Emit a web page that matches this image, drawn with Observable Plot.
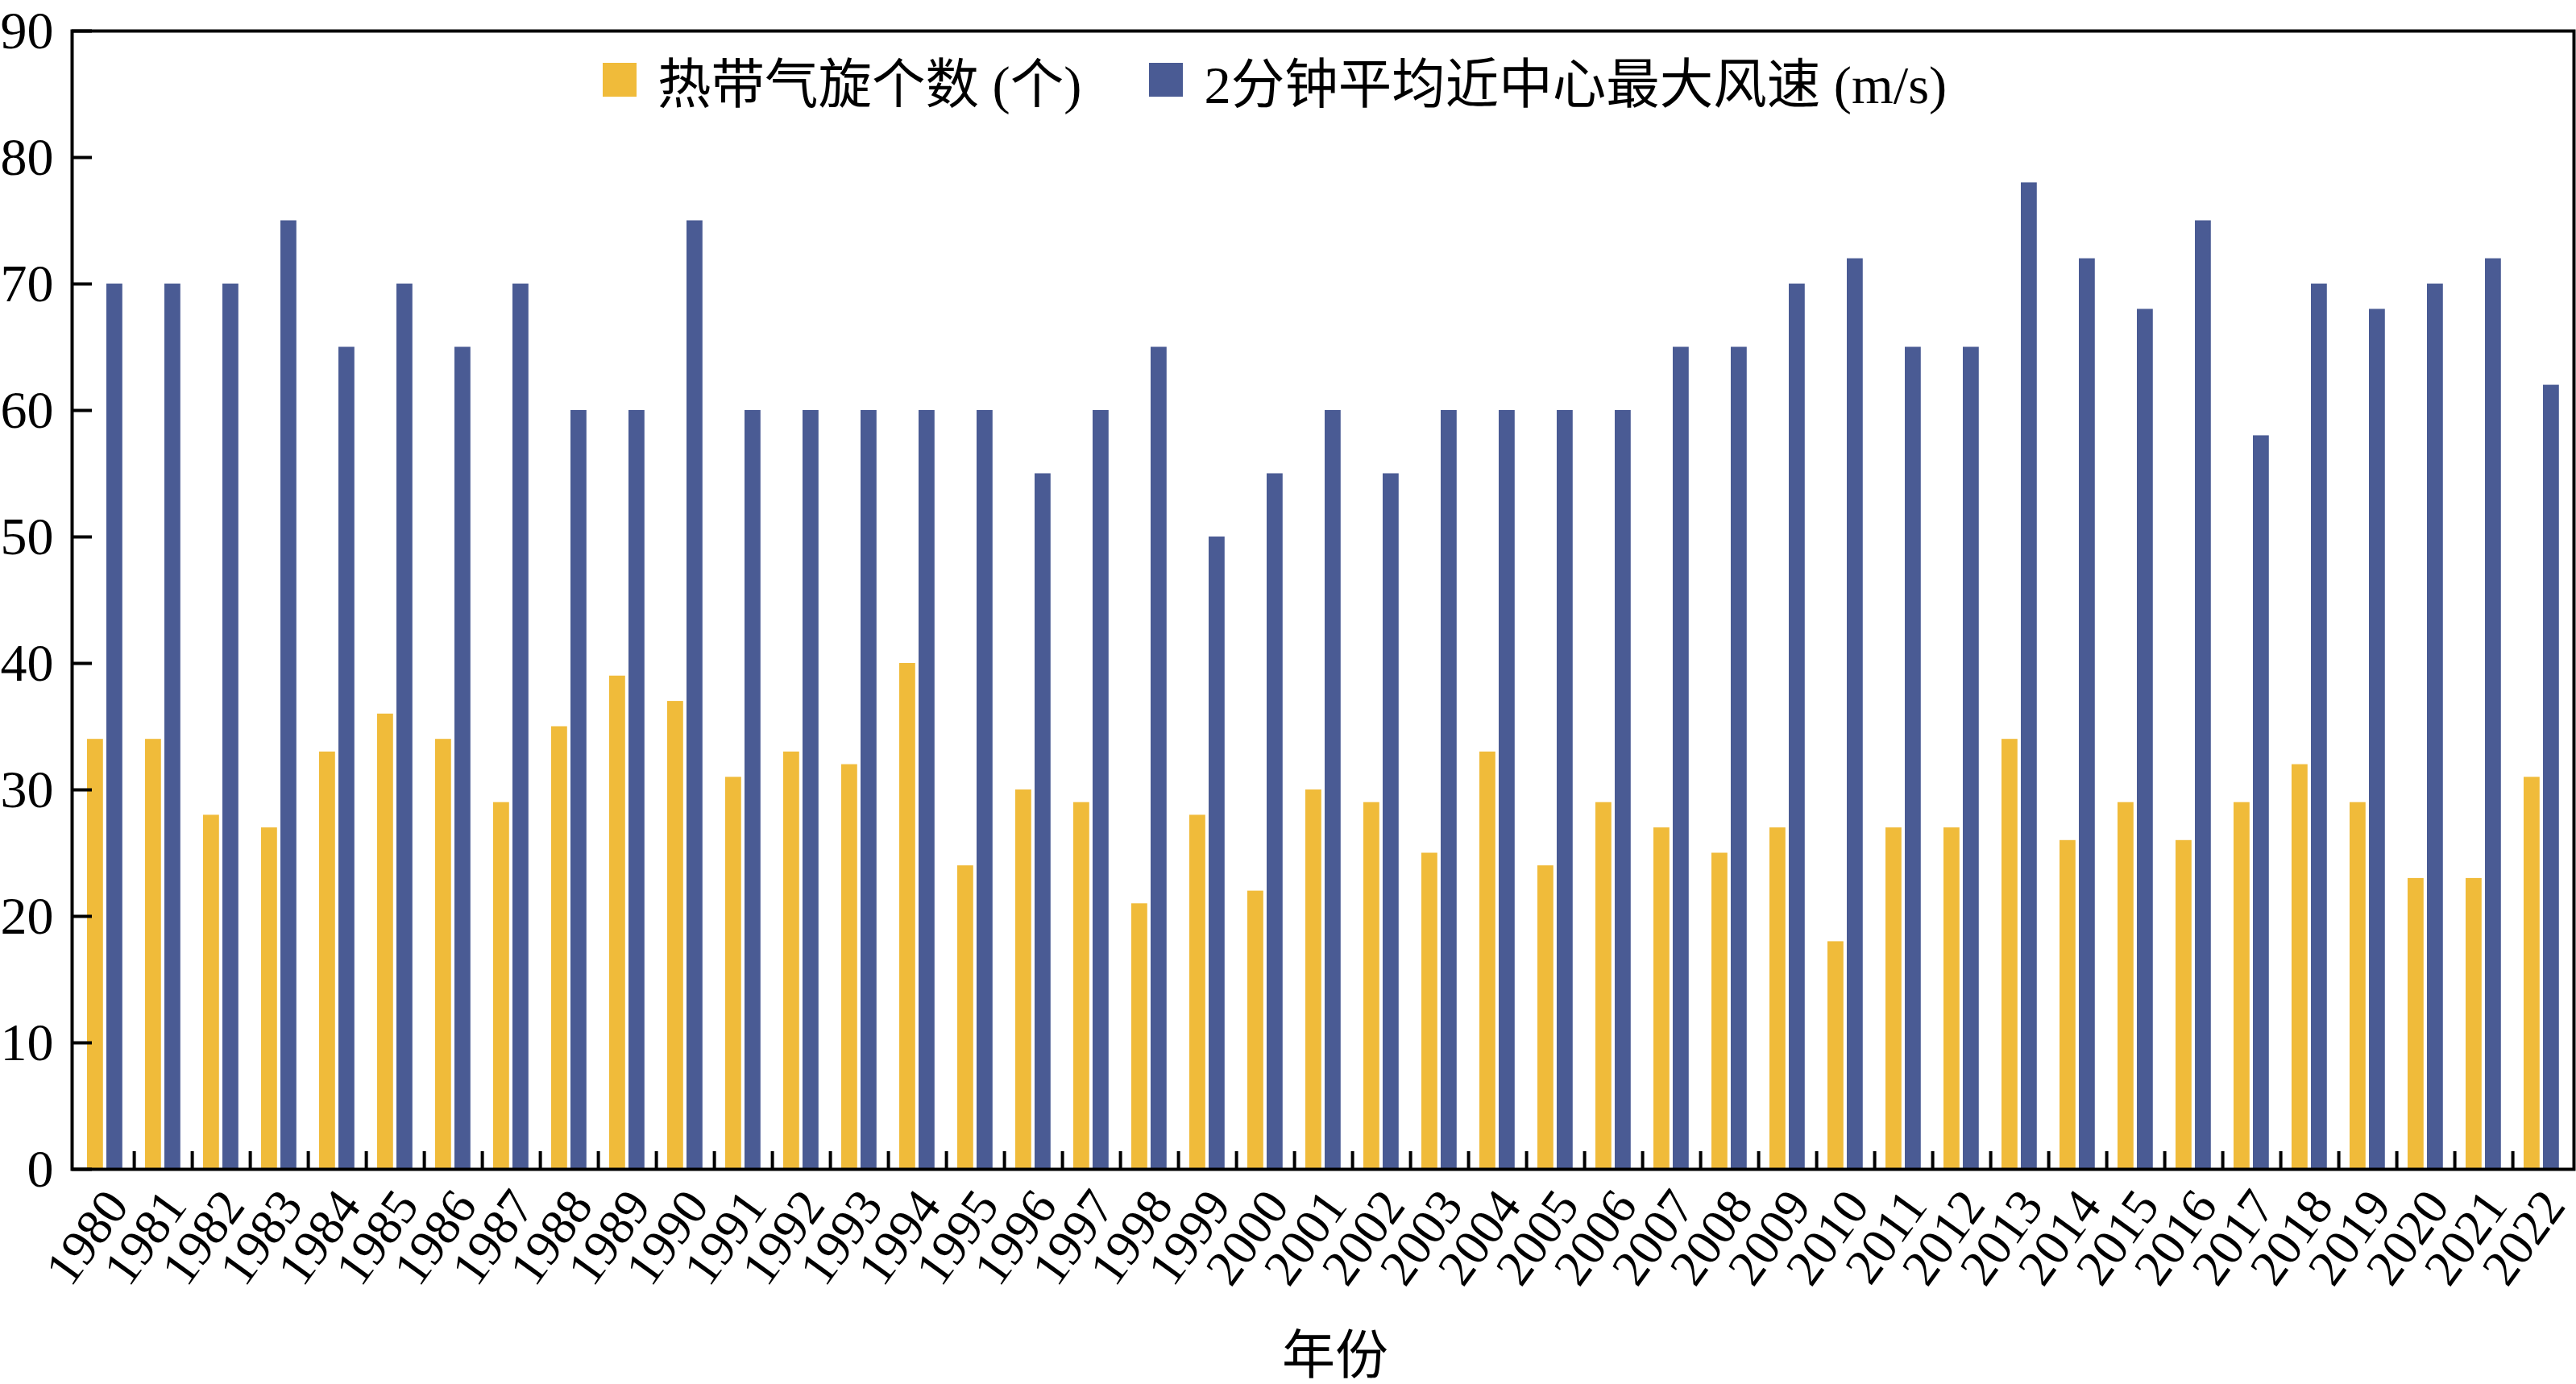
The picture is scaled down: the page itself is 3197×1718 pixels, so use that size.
<!DOCTYPE html>
<html><head><meta charset="utf-8">
<script src="https://cdn.jsdelivr.net/npm/d3@7"></script>
<script src="https://cdn.jsdelivr.net/npm/@observablehq/plot@0.6"></script>
<style>
html,body{margin:0;padding:0;background:#fff;}
#wrap{position:relative;width:3197px;height:1718px;overflow:hidden;}
#wrap svg{position:absolute;left:0;top:0;}
#legend{position:absolute;left:748px;top:68px;height:62px;display:flex;align-items:center;font-family:"Liberation Serif","Noto Sans CJK SC",serif;font-size:66.5px;color:#000;white-space:nowrap;z-index:2;}
.item{display:flex;align-items:center;}
.sw{width:42px;height:42px;margin-right:26px;}
</style></head><body><div id="wrap"><div id="legend"></div></div>
<script>
const years = [1980,1981,1982,1983,1984,1985,1986,1987,1988,1989,1990,1991,1992,1993,1994,1995,1996,1997,1998,1999,2000,2001,2002,2003,2004,2005,2006,2007,2008,2009,2010,2011,2012,2013,2014,2015,2016,2017,2018,2019,2020,2021,2022];
const tcCount = [34,34,28,27,33,36,34,29,35,39,37,31,33,32,40,24,30,29,21,28,22,30,29,25,33,24,29,27,25,27,18,27,27,34,26,29,26,29,32,29,23,23,31];
const maxWind = [70,70,70,75,65,70,65,70,60,60,75,60,60,60,60,60,55,60,65,50,55,60,55,60,60,60,60,65,65,70,72,65,65,78,72,68,75,58,70,68,70,72,62];
const seriesNames = ["热带气旋个数 (个)", "2分钟平均近中心最大风速 (m/s)"];
const seriesColors = ["#F0BB3A", "#4A5B94"];
const yTicks = [0,10,20,30,40,50,60,70,80,90];
const xLabel = "年份";

const countRows = years.map((y, i) => ({year: y, series: seriesNames[0], value: tcCount[i]}));
const windRows = years.map((y, i) => ({year: y, series: seriesNames[1], value: maxWind[i]}));

const W = 3197, H = 1718, mL = 89, mR = 3, mT = 38, mB = 267;
const bw = (W - mL - mR) / years.length;
const font = '"Liberation Serif","Noto Sans CJK SC",serif';

const chart = Plot.plot({
  width: W, height: H,
  marginLeft: mL, marginRight: mR, marginTop: mT, marginBottom: mB,
  style: {fontFamily: font, fontSize: "66px", color: "#000", background: "#fff", overflow: "visible"},
  x: {type: "band", domain: years, padding: 0},
  y: {domain: [0, 90]},
  marks: [
    Plot.barY(countRows, {x: "year", y: "value", fill: seriesColors[0], insetLeft: 14, insetRight: bw - 34}),
    Plot.barY(windRows, {x: "year", y: "value", fill: seriesColors[1], insetLeft: 38, insetRight: bw - 58}),
    Plot.frame({stroke: "#000", strokeWidth: 4}),
    Plot.axisY({ticks: yTicks, tickSize: -25, strokeWidth: 4, tickFormat: () => "", label: null}),
    Plot.axisY({ticks: yTicks, tickSize: 0, tickPadding: 23, label: null, fontSize: 66}),
    Plot.axisX({ticks: years.slice(0, -1), tickSize: -22, strokeWidth: 4, dx: bw / 2, tickFormat: () => "", label: null}),
    Plot.text(years, {x: d => d, text: d => String(d), frameAnchor: "bottom", rotate: -54, textAnchor: "end", lineAnchor: "middle", dx: 15, dy: 34, fontSize: 63, fill: "#000"}),
    Plot.text([xLabel], {frameAnchor: "bottom", dx: 15, dy: 253, fontSize: 66, fill: "#000"})
  ]
});
document.getElementById("wrap").appendChild(chart);

const legend = document.getElementById("legend");
seriesNames.forEach((name, i) => {
  const item = document.createElement("div");
  item.className = "item";
  if (i > 0) item.style.marginLeft = "84px";
  const sw = document.createElement("div");
  sw.className = "sw";
  sw.style.background = seriesColors[i];
  const t = document.createElement("span");
  t.textContent = name;
  item.appendChild(sw); item.appendChild(t);
  legend.appendChild(item);
});
</script></body></html>
